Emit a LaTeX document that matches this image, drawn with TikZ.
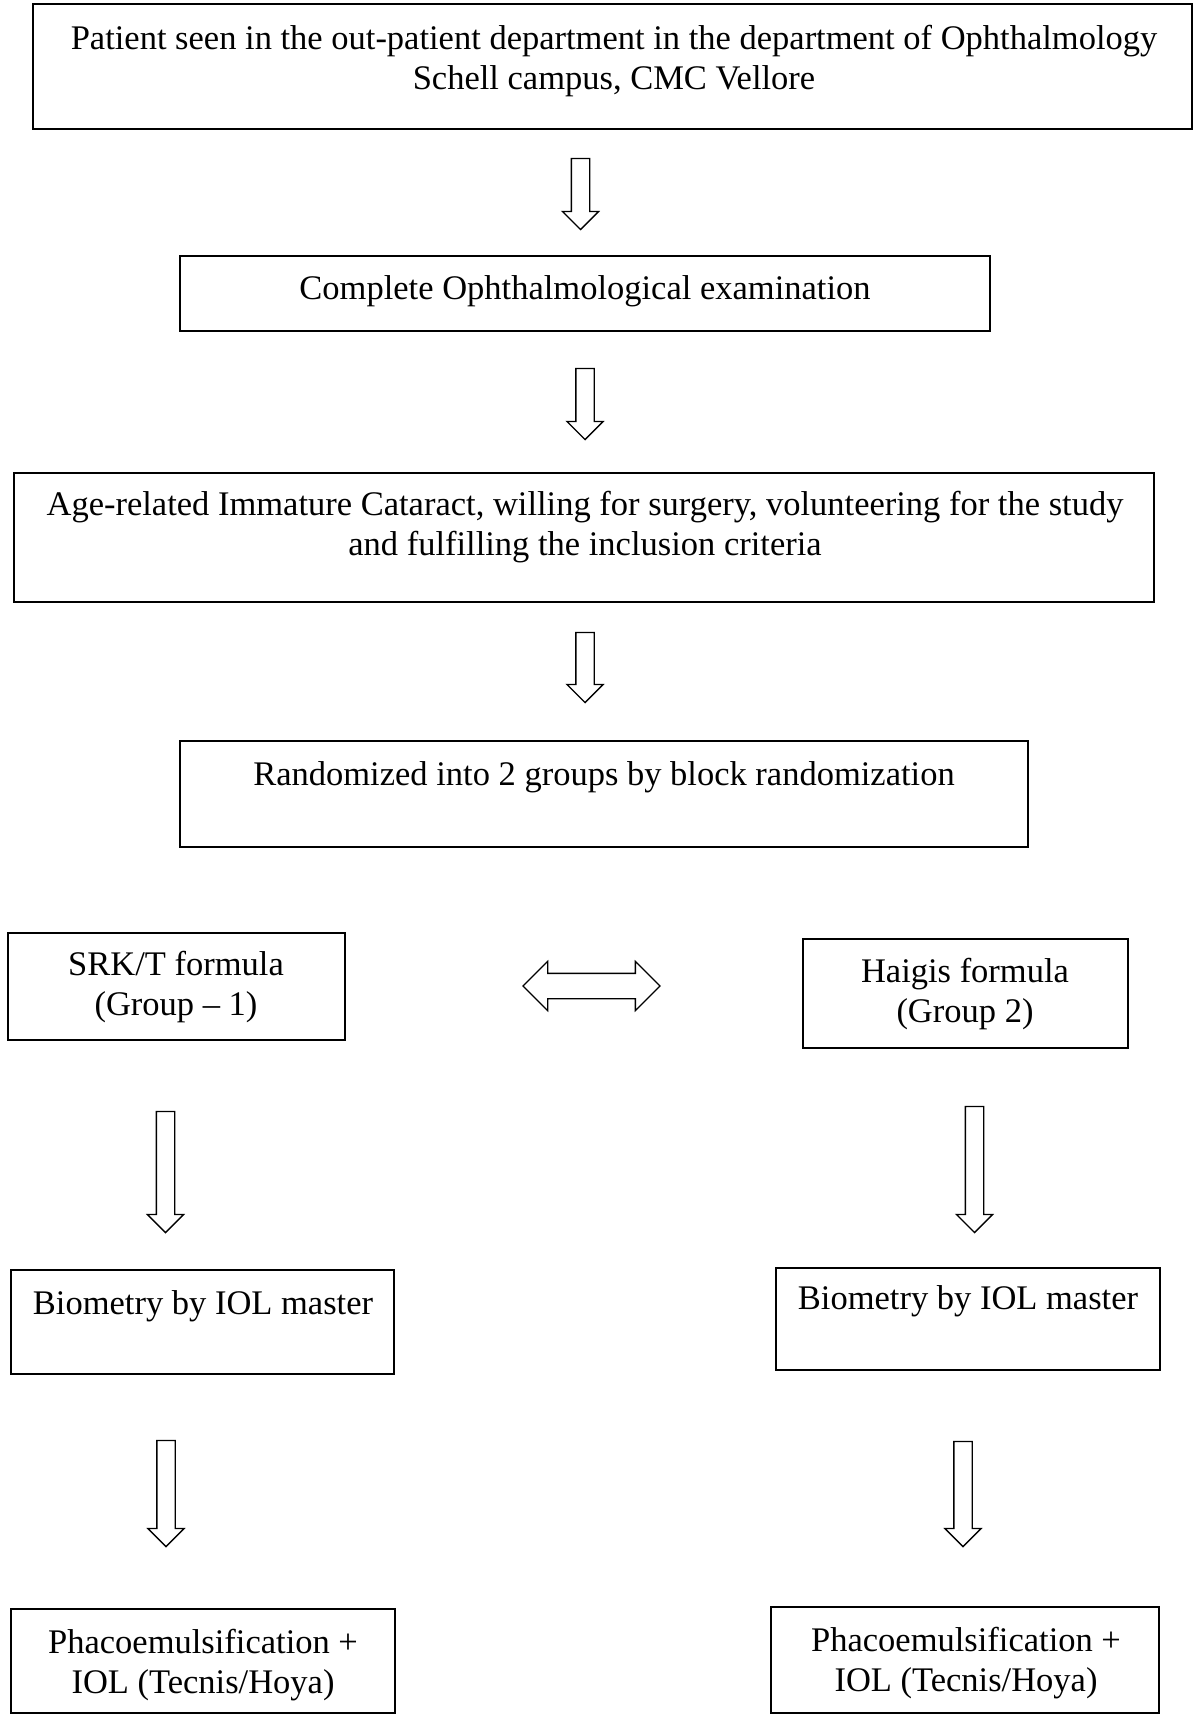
\documentclass[tikz,border=0pt]{standalone}
\usepackage{fontspec}
\setmainfont{Liberation Serif}
\usetikzlibrary{shapes.arrows}

\tikzset{
  box/.style={draw, line width=1.2pt, inner sep=0pt},
  txt/.style={align=center, inner sep=0pt, font=\fontsize{34.5}{40}\selectfont},
  downarrow/.style={draw, line width=1.3pt, single arrow, rotate=-90,
    single arrow head extend=9pt, inner xsep=0pt, inner ysep=8.5pt,
    minimum height=#1},
}

\begin{document}
\begin{tikzpicture}[x=1pt, y=-1pt]
    \useasboundingbox (0,0) rectangle (1203,1716);
    % boxes
    \node[box, line width=2pt, minimum width=1159pt, minimum height=125pt] (start) at (612.5, 66.5) {};
    \node[box, minimum width=810pt, minimum height=75pt] (exam) at (585, 293.5) {};
    \node[box, minimum width=1140pt, minimum height=129pt] (incl) at (584, 537.5) {};
    \node[box, minimum width=848pt, minimum height=106pt] (rand) at (604, 794) {};
    \node[box, minimum width=337pt, minimum height=107pt] (srkt) at (176.5, 986.5) {};
    \node[box, minimum width=325pt, minimum height=109pt] (haigis) at (965.5, 993.5) {};
    \node[box, minimum width=383pt, minimum height=104pt] (bioL) at (202.5, 1322) {};
    \node[box, minimum width=384pt, minimum height=102pt] (bioR) at (968, 1319) {};
    \node[box, minimum width=384pt, minimum height=104pt] (phacoL) at (203, 1661) {};
    \node[box, minimum width=388pt, minimum height=106pt] (phacoR) at (965, 1660) {};
    % texts
    \node[txt] (t1) at (614, 61) {Patient seen in the out-patient department in the department of Ophthalmology\\ Schell campus, CMC Vellore};
    \node[txt] (t2) at (585, 291) {Complete Ophthalmological examination};
    \node[txt] (t3) at (585, 527) {Age-related Immature Cataract, willing for surgery, volunteering for the study\\ and fulfilling the inclusion criteria};
    \node[txt] (t4) at (604, 777) {Randomized into 2 groups by block randomization};
    \node[txt] (t5) at (176, 987) {SRK/T formula\\ (Group -- 1)};
    \node[txt] (t6) at (965, 994) {Haigis formula\\ (Group 2)};
    \node[txt] (t7) at (203, 1306) {Biometry by IOL master};
    \node[txt] (t8) at (968, 1301) {Biometry by IOL master};
    \node[txt] (t9) at (203, 1665) {Phacoemulsification +\\ IOL (Tecnis/Hoya)};
    \node[txt] (t10) at (966, 1663) {Phacoemulsification +\\ IOL (Tecnis/Hoya)};
    % block arrows
    \node[downarrow=71pt] (a1) at (580.5, 189.5) {};
    \node[downarrow=71pt] (a2) at (585, 399.5) {};
    \node[downarrow=70pt] (a3) at (585, 663) {};
    \node[downarrow=121pt] (aL1) at (165.5, 1167.5) {};
    \node[downarrow=126pt] (aR1) at (974.5, 1165) {};
    \node[downarrow=106pt] (aL2) at (166, 1489) {};
    \node[downarrow=105pt] (aR2) at (963, 1489.5) {};
    \node[draw, line width=1.3pt, double arrow, double arrow head extend=12pt,
      inner xsep=0pt, inner ysep=12pt, minimum height=137pt] (both) at (591.5, 986) {};
  \end{tikzpicture}
\end{document}
